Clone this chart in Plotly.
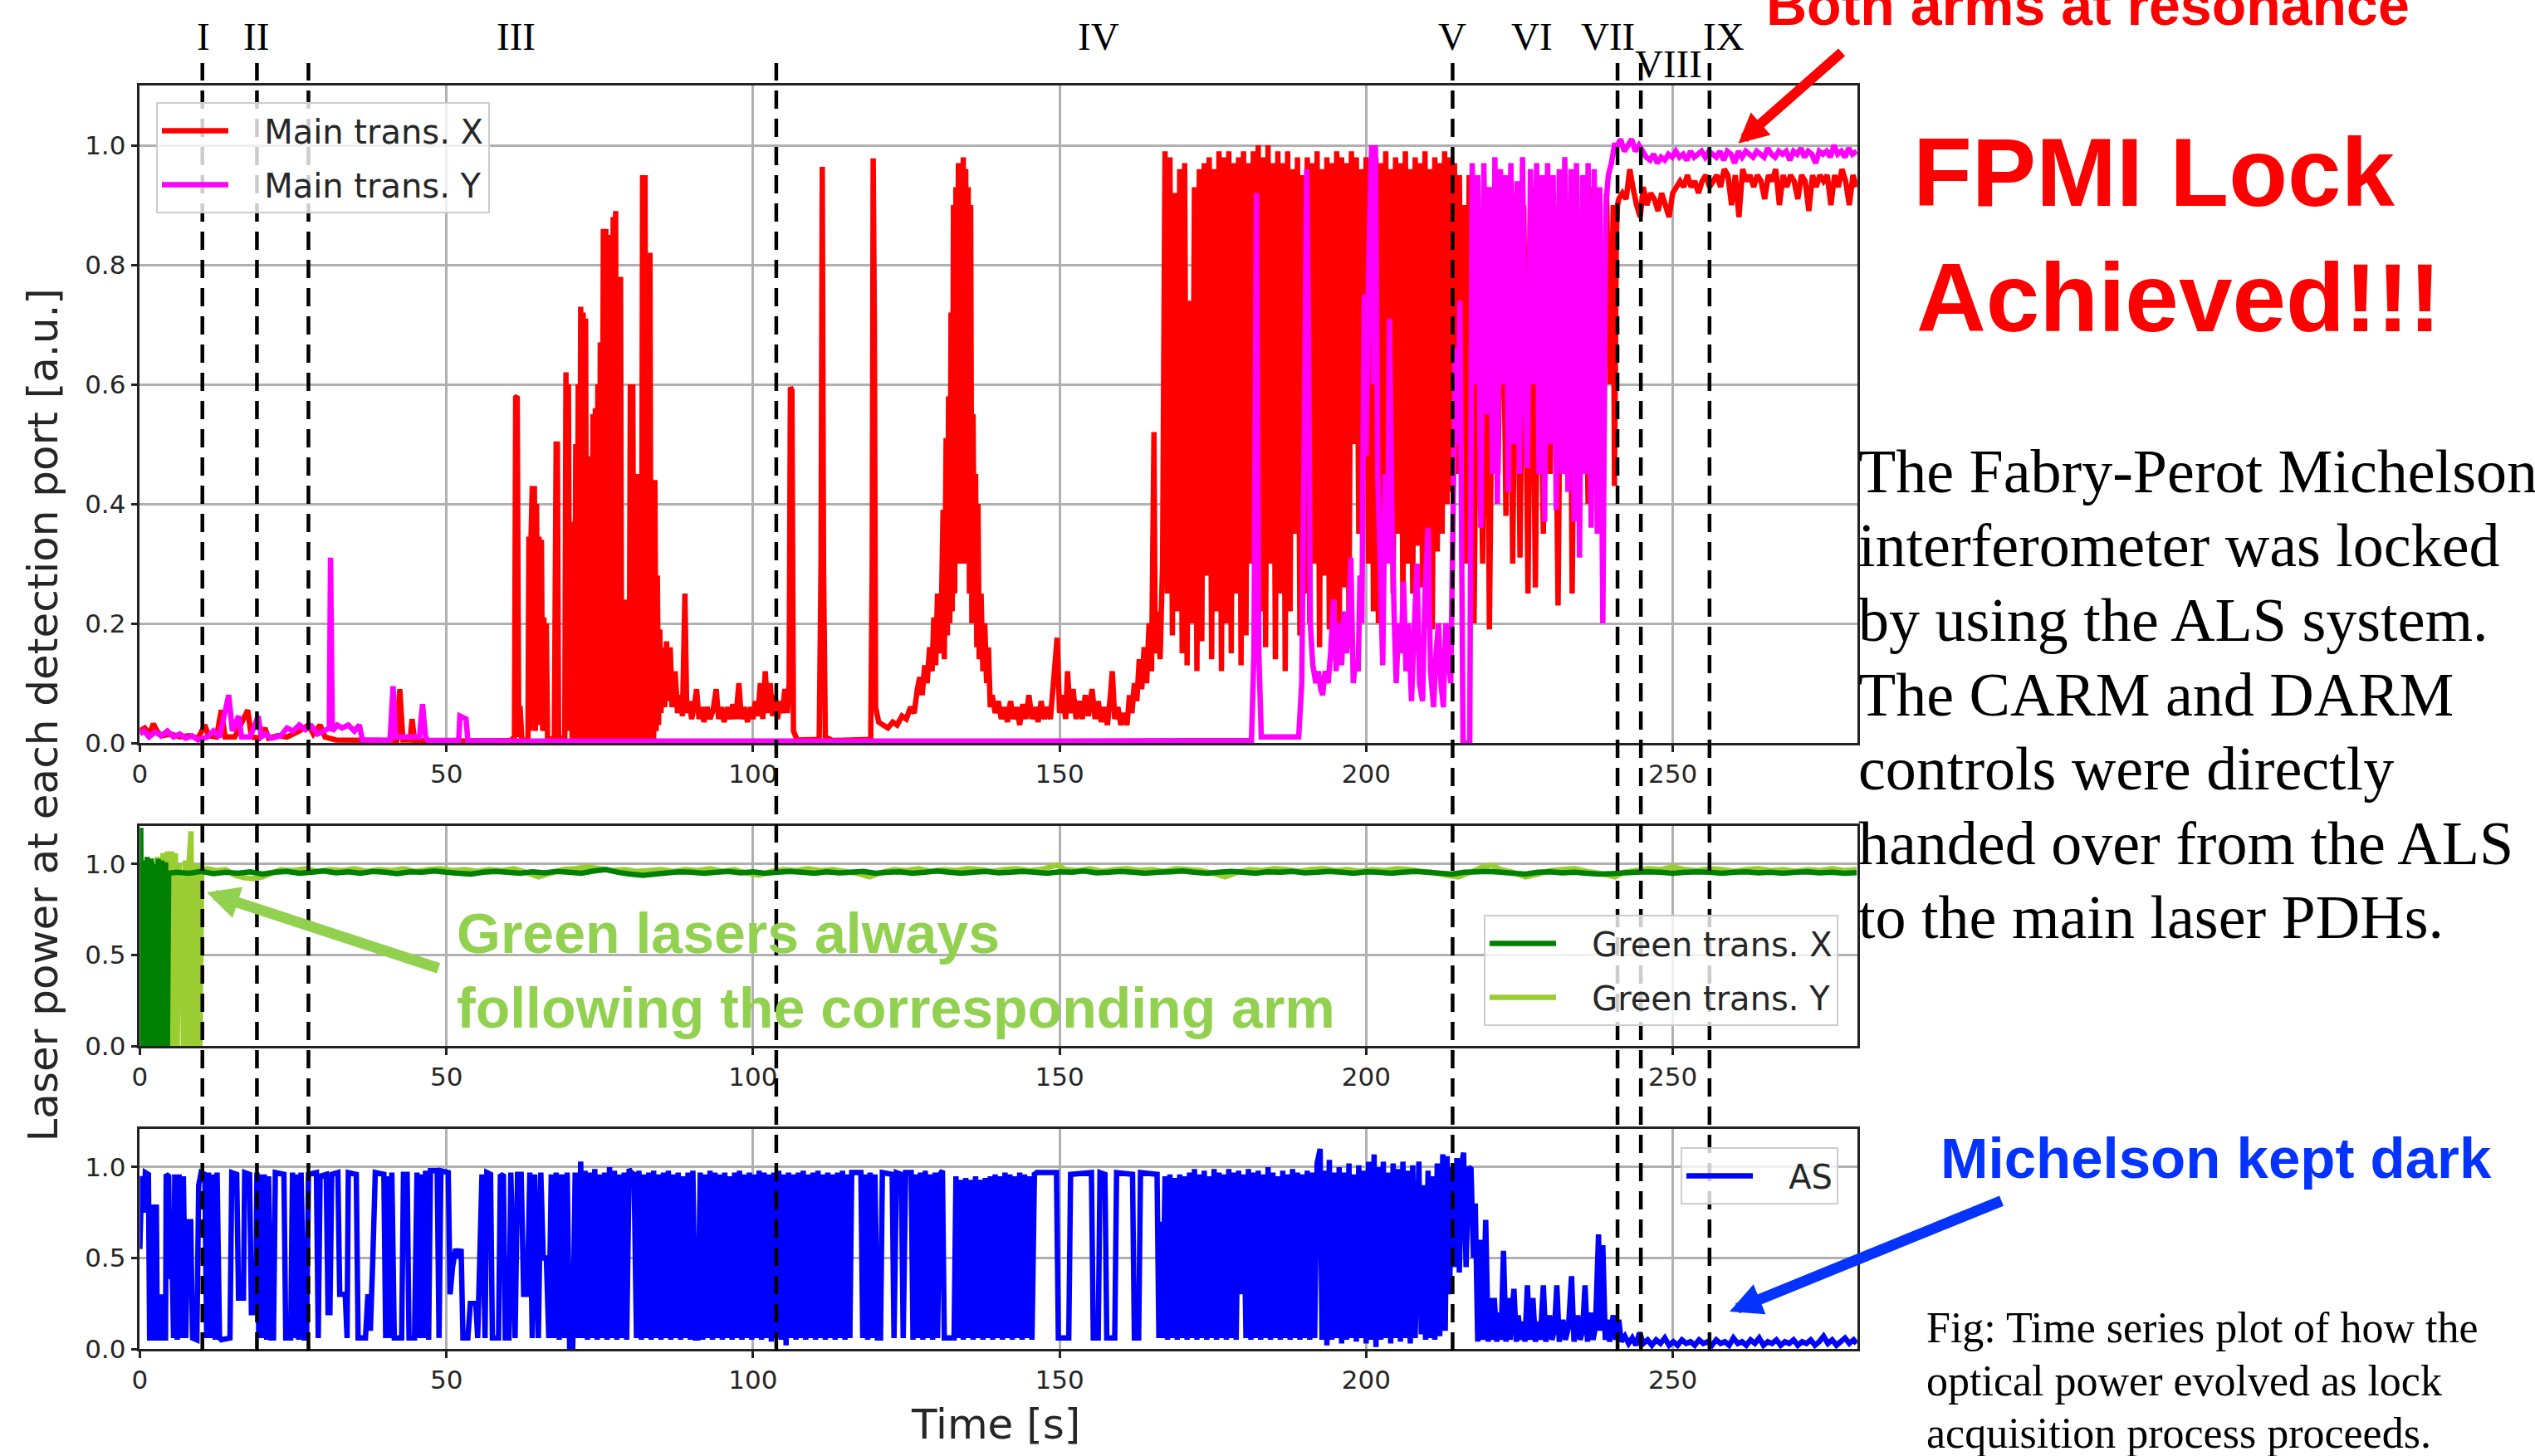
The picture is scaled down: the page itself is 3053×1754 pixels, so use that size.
import plotly.graph_objects as go

W, H = 3053, 1754

# ---------------- data (time [s], power [a.u.]) ----------------
main_x = [
    (0, .02), (0.8, .025), (1.6, .015), (2.2, .032), (2.8, .02), (3.5, .012), (5, .015), (6.5, .01), (8, .012),
    (9.5, .008), (10.6, .03), (11.2, .012), (12.5, .01), (13.3, .055), (13.9, .01), (15.5, .01), (17.6, .055),
    (18.2, .01), (19.5, .008), (20.4, .025), (21, .008), (22.5, .012), (24, .01), (26, .02), (27.5, .03),
    (28.3, .015), (29.4, .03), (30.2, .01), (32, .005), (41.9, .004), (42.4, .09), (42.9, .005), (44.1, .005),
    (44.4, .04), (44.8, .004), (55, .003), (60.5, .004),
    (61.1, .01), (61.3, .578), (61.55, .58), (61.8, .01), (62.0, .062), (62.3, .005), (63.3, .005), (63.45, .345),
    (63.6, .02), (63.8, .34), (64.0, .43), (64.2, .05), (64.35, .43), (64.5, .02), (64.7, .40), (64.9, .03),
    (65.1, .345), (65.3, .03), (65.5, .34), (65.7, .02), (65.9, .21), (66.1, .02), (66.3, .2), (66.5, .005),
    (67.6, .008), (67.9, .5), (68.1, .5), (68.3, .01), (69.3, .005), (69.5, .62), (69.7, .02), (69.9, .6),
    (70.1, .03), (70.3, .37), (70.5, 0), (70.7, .36), (70.9, 0), (71.1, .5), (71.3, 0), (71.5, .6), (71.7, 0),
    (71.9, .73), (72.1, 0), (72.3, .72), (72.5, 0), (72.7, .71), (72.9, 0), (73.1, .48), (73.3, 0), (73.5, .47),
    (73.7, 0), (73.9, .55), (74.1, 0), (74.3, .56), (74.5, 0), (74.7, .6), (74.9, 0), (75.1, .67), (75.3, 0),
    (75.6, .86), (75.8, 0), (76.0, .86), (76.2, 0), (76.4, .52), (76.6, 0), (76.8, .85), (77.0, 0), (77.2, .88),
    (77.4, 0), (77.6, .89), (77.8, 0), (78.0, .78), (78.2, 0), (78.4, .78), (78.6, 0), (78.8, .23), (79.0, 0),
    (79.2, .24), (79.4, 0), (79.6, .23), (79.8, 0), (80.0, .6), (80.2, 0), (80.4, .6), (80.6, 0), (80.8, .45),
    (81.0, 0), (81.2, .45), (81.4, 0), (81.6, .45), (81.8, 0), (82.0, .95), (82.2, 0), (82.4, .95), (82.6, 0),
    (82.8, .82), (83.0, 0), (83.2, .82), (83.4, 0), (83.6, .44), (83.8, 0), (84.0, .44), (84.2, .02), (84.4, .28),
    (84.6, .03), (84.8, .19), (85.0, .05), (85.3, .16), (85.6, .06), (85.9, .17), (86.2, .07), (86.5, .16),
    (86.8, .06), (87.3, .12), (87.7, .05), (88.1, .08), (88.5, .045), (88.9, .25), (89.2, .05), (89.6, .07),
    (90.0, .04), (90.4, .06), (90.8, .09), (91.2, .04), (91.6, .06), (92.0, .035), (92.5, .06), (93.0, .04),
    (93.5, .055), (94.0, .09), (94.4, .04), (94.8, .06), (95.3, .035), (95.8, .06), (96.3, .04), (96.7, .065),
    (97.2, .04), (97.7, .1), (98.1, .04), (98.6, .06), (99.1, .035), (99.6, .06), (100.0, .04), (100.4, .07),
    (100.8, .045), (101.2, .1), (101.6, .04), (102.0, .12), (102.4, .05), (102.8, .1), (103.2, .045), (103.6, .08),
    (104.0, .04), (104.4, .07), (104.8, .05), (105.2, .09), (105.6, .05), (105.9, .1),
    (106.1, .595), (106.35, .59), (106.6, .02), (107.2, .005), (110.8, .006), (111.1, .3), (111.3, .964),
    (111.5, .3), (111.8, .01), (113, .004), (119.2, .006), (119.45, .3), (119.6, .978), (119.8, .7), (120.0, .06),
    (120.5, .035), (121.2, .03), (122.0, .025), (122.8, .035), (123.5, .03), (124.3, .045), (125.0, .04),
    (125.7, .06), (126.3, .05), (126.8, .09), (127.2, .11), (127.6, .08), (128.0, .13), (128.4, .1), (128.8, .16),
    (129.2, .12), (129.5, .21), (129.8, .13), (130.1, .25), (130.4, .15), (130.7, .2), (131.0, .39), (131.2, .14),
    (131.5, .51), (131.7, .18), (131.9, .58), (132.1, .2), (132.3, .72), (132.5, .22), (132.7, .9), (132.9, .25),
    (133.1, .93), (133.3, .3), (133.5, .97), (133.7, .32), (133.9, .95), (134.1, .3), (134.3, .98), (134.5, .35),
    (134.7, .96), (134.9, .3), (135.1, .93), (135.3, .25), (135.5, .9), (135.7, .2), (135.9, .55), (136.1, .22),
    (136.3, .45), (136.5, .16), (136.7, .4), (136.9, .14), (137.2, .25), (137.5, .12), (137.8, .2), (138.1, .1),
    (138.4, .16), (138.7, .06),
    (139.0, .08), (139.5, .05), (140.0, .07), (140.5, .04), (141.0, .06), (141.5, .035), (142.0, .07), (142.5, .04),
    (143.0, .06), (143.5, .03), (144.0, .065), (144.5, .04), (145.0, .08), (145.5, .04), (146.0, .06),
    (146.5, .035), (147.0, .07), (147.5, .04), (148.0, .06), (148.5, .04), (149.0, .1), (149.6, .176), (150.0, .05),
    (150.5, .08), (151.0, .04), (151.3, .12), (151.7, .05), (152.2, .09), (152.7, .04), (153.2, .07), (153.7, .04),
    (154.2, .08), (154.7, .045), (155.3, .09), (155.8, .04), (156.3, .07), (156.8, .035), (157.3, .06),
    (157.8, .03), (158.3, .08), (158.6, .12), (159.0, .04), (159.5, .06), (160.0, .03), (160.5, .05), (161.0, .03),
    (161.4, .08), (161.8, .05), (162.2, .1), (162.6, .07), (163.0, .14), (163.4, .09), (163.8, .16), (164.2, .1),
    (164.6, .2), (165.0, .12), (165.4, .52), (165.6, .15), (166.0, .22), (166.4, .14), (166.8, .3),
    (167.2, .99), (167.6, .25), (168.0, .98), (168.4, .18), (168.8, .92), (169.2, .22), (169.6, .96), (170.0, .15),
    (170.4, .97), (170.8, .13), (171.2, .74), (171.6, .2), (172.0, .93), (172.4, .12), (172.8, .96), (173.2, .17),
    (173.6, .97), (174.0, .28), (174.4, .98), (174.8, .14), (175.2, .96), (175.6, .22), (176.0, .99), (176.4, .12),
    (176.8, .98), (177.2, .2), (177.6, .99), (178.0, .15), (178.4, .97), (178.8, .25), (179.2, .98), (179.6, .13),
    (180.0, .99), (180.4, .18), (180.8, .97), (181.2, .3), (181.6, .99), (182.0, .45), (182.4, 1.0), (182.8, .22),
    (183.2, .98), (183.6, .16), (184.0, 1.0), (184.4, .3), (184.8, .97), (185.2, .14), (185.6, .99), (186.0, .25),
    (186.4, .97), (186.8, .12), (187.2, .99), (187.6, .22), (188.0, .96), (188.4, .35), (188.8, .98), (189.2, .18),
    (189.6, .95), (190.0, .25), (190.4, .98), (190.8, .2), (191.2, .97), (191.6, .3), (192.0, .99), (192.4, .16),
    (192.8, .96), (193.2, .28), (193.6, .98), (194.0, .19), (194.4, .97), (194.8, .24), (195.2, .99), (195.6, .15),
    (196.0, .98), (196.4, .26), (196.8, .97), (197.2, .2), (197.6, .99), (198.0, .5), (198.4, .98), (198.8, .35),
    (199.2, .96), (199.6, .55), (200.0, .98), (200.4, .3), (200.8, .97), (201.2, .22), (201.6, .98), (202.0, .2),
    (202.4, .97), (202.8, .28), (203.2, .99), (203.6, .3), (204.0, .96), (204.4, .25), (204.8, .98), (205.2, .35),
    (205.6, .97), (206.0, .22), (206.4, .99), (206.8, .3), (207.2, .96), (207.6, .25), (208.0, .98), (208.4, .33),
    (208.8, .97), (209.2, .26), (209.6, .99), (210.0, .3), (210.4, .96), (210.8, .19), (211.2, .98), (211.6, .32),
    (212.0, .97), (212.4, .35), (212.8, .99), (213.2, .4), (213.6, .98), (214.0, .42), (214.4, .97), (214.8, .45),
    (215.2, .95), (215.6, .5), (216.0, .9), (216.4, .3),
    (216.8, .95), (217.6, .2), (218.2, .9), (219.0, .3), (219.6, .92), (220.1, .19), (220.8, .9), (221.5, .45),
    (222.2, .93), (222.8, .38), (223.4, .9), (223.9, .3), (224.5, .92), (225.1, .31), (225.7, .9), (226.4, .25),
    (227.0, .93), (227.6, .26), (228.2, .9), (228.9, .35), (229.5, .92), (230.0, .45), (230.6, .9), (231.3, .23),
    (231.9, .93), (232.6, .5), (233.2, .9), (233.6, .25), (234.2, .92), (234.9, .55), (235.5, .9), (236.2, .4),
    (236.8, .93), (237.4, .6), (238.0, .9), (238.6, .5), (239.2, .92), (239.8, .6), (240.3, .9), (240.5, .43),
    (240.8, .85), (241.0, .9),
    (241.2, .91), (241.8, .92), (242.4, .91), (243.0, .96), (243.5, .93), (244.1, .9), (244.7, .88), (245.2, .93),
    (245.8, .9), (246.4, .92), (247.0, .91), (247.6, .89), (248.2, .92), (248.8, .9), (249.4, .88), (250.0, .92),
    (250.6, .93), (251.2, .94), (251.8, .93), (252.4, .95), (253.0, .93), (253.6, .94), (254.2, .92), (254.8, .94),
    (255.4, .95), (256.0, .93), (256.6, .94), (257.2, .95), (257.8, .93), (258.4, .96), (259.0, .95), (259.6, .9),
    (260.2, .95), (260.8, .88), (261.4, .96), (262.0, .94), (262.6, .95), (263.2, .93), (263.8, .95), (264.4, .94),
    (265.0, .91), (265.6, .95), (266.2, .94), (266.8, .96), (267.4, .9), (268.0, .95), (268.6, .93), (269.2, .95),
    (269.8, .94), (270.4, .91), (271.0, .95), (271.6, .94), (272.2, .89), (272.8, .95), (273.4, .93), (274.0, .95),
    (274.6, .94), (275.2, .95), (275.8, .9), (276.4, .95), (277.0, .93), (277.6, .96), (278.2, .94), (278.8, .9),
    (279.4, .95), (280.0, .93),
]

main_y = [
    (0, .015), (0.7, .02), (1.5, .01), (2.5, .018), (3.5, .012), (4.5, .02), (5.5, .01), (6.5, .015), (7.5, .008),
    (8.5, .012), (9.5, .005), (11, .01), (12, .02), (13, .01), (14.5, .08), (15.1, .02), (16.1, .045), (16.6, .01),
    (18, .01), (19.3, .045), (19.8, .01), (20.5, .015), (21.5, .008), (23, .012), (24, .025), (25, .02), (26, .03),
    (27, .022), (28, .028), (29, .015), (30, .02), (30.9, .025), (31.1, .31), (31.4, .02), (32.2, .03), (33, .025),
    (34, .03), (35, .02), (35.8, .03), (36.3, .005), (40.8, .004), (41.3, .095), (41.7, .01), (45.6, .01),
    (46.1, .065), (46.6, .01), (47, .004), (52, .004), (52.2, .045), (53.2, .04), (53.5, .004), (60, .003),
    (100, .003), (150, .003), (181.3, .004), (181.7, .15), (182.1, .92), (182.5, .15), (182.9, .01),
    (189.0, .01), (189.5, .1), (189.9, .5), (190.3, .96), (190.6, .7), (190.9, .2), (191.3, .13), (191.8, .1),
    (192.2, .12), (192.6, .09), (192.9, .08), (193.3, .12), (193.8, .1), (194.2, .15), (194.7, .24), (195.1, .12),
    (195.6, .2), (196.0, .13), (196.4, .22), (196.8, .15), (197.2, .2), (197.5, .31), (197.9, .1), (198.3, .14),
    (198.7, .12), (199.0, .28), (199.3, .2), (199.7, .75), (200.0, .48), (200.4, .8), (200.9, 1.0), (201.2, .6),
    (201.5, 1.0), (201.9, .45), (202.3, .3), (202.7, .13), (203.1, .45), (203.5, .3), (203.8, .71), (204.2, .38),
    (204.6, .2), (204.9, .1), (205.3, .2), (205.7, .15), (206.1, .27), (206.5, .12), (206.9, .2), (207.4, .07),
    (207.8, .18), (208.3, .3), (208.7, .1), (209.2, .07), (209.6, .25), (210.1, .36), (210.5, .12), (211.0, .06),
    (211.4, .15), (211.8, .2), (212.2, .1), (212.6, .06), (213.0, .2), (213.4, .15), (213.8, .1), (214.2, .4),
    (214.6, .66), (215.0, .5), (215.3, .74), (215.6, .3), (215.8, .0), (216.4, .0), (216.9, .0), (217.1, .5),
    (217.3, .97), (217.8, .6), (218.2, .95), (218.7, .36), (219.2, .97), (219.7, .55), (220.1, .93), (220.6, .45),
    (221.0, .98), (221.4, .4), (221.9, .96), (222.4, .6), (222.8, .95), (223.2, .42), (223.6, .97), (224.1, .5),
    (224.6, .94), (225.0, .45), (225.5, .98), (226.0, .55), (226.3, .46), (226.8, .96), (227.3, .6), (227.8, .97),
    (228.2, .45), (228.7, .95), (229.1, .37), (229.6, .97), (230.1, .5), (230.5, .95), (231.0, .39), (231.5, .96),
    (232.0, .45), (232.4, .98), (232.9, .42), (233.4, .96), (233.9, .37), (234.3, .97), (234.8, .31), (235.3, .95),
    (235.8, .45), (236.2, .97), (236.7, .36), (237.2, .96), (237.7, .35), (238.1, .93), (238.6, .2), (239.1, .9),
    (239.5, .95), (240.0, .97), (240.5, 1.0),
    (241.0, 1.0), (241.5, 1.01), (242.1, .99), (242.7, 1.0), (243.3, 1.01), (243.9, .99), (244.5, 1.0), (245.1, .99),
    (245.7, .98), (246.3, .975), (246.9, .985), (247.5, .97), (248.1, .98), (248.7, .975), (249.3, .985),
    (249.9, .98), (250.5, .99), (251.1, .98), (251.7, .985), (252.3, .975), (252.9, .99), (253.5, .98),
    (254.1, .985), (254.7, .99), (255.3, .98), (255.9, .99), (256.5, .985), (257.1, .98), (257.7, .99),
    (258.3, .975), (258.9, .99), (259.5, .985), (260.1, .97), (260.7, .99), (261.3, .98), (261.9, .99),
    (262.5, .985), (263.1, .98), (263.7, .99), (264.3, .985), (264.9, .98), (265.5, .995), (266.1, .985),
    (266.7, .98), (267.3, .99), (267.9, .985), (268.5, .99), (269.1, .975), (269.7, .99), (270.3, .985),
    (270.9, .995), (271.5, .98), (272.1, .99), (272.7, .985), (273.3, .97), (273.9, .99), (274.5, .985),
    (275.1, .99), (275.7, .98), (276.3, 1.0), (276.9, .985), (277.5, .99), (278.1, .98), (278.7, .995),
    (279.3, .985), (280.0, .99),
]

green_x = [
    (0, 0), (0.15, 1.2), (0.3, 0), (0.6, 1.02), (0.9, 0), (1.2, 1.04), (1.5, 0), (1.8, 1.03), (2.0, .99), (2.1, 0),
    (2.4, 1.0), (2.7, 0), (3.0, 1.03), (3.3, 0), (3.6, 1.02), (3.9, 0), (4.2, 1.01), (4.5, 0), (4.7, .95),
    (6, .955), (8, .95), (10, .96), (12, .948), (14, .955), (16, .95), (18, .958), (20, .945), (22, .955), (24, .96),
    (26, .95), (28, .955), (30, .962), (32, .952), (34, .958), (36, .95), (38, .96), (40, .955), (42, .948),
    (44, .958), (46, .955), (48, .962), (50, .955), (52, .95), (54, .945), (56, .955), (58, .96), (60, .955),
    (62, .95), (64, .958), (66, .952), (68, .96), (70, .955), (72, .95), (74, .962), (76, .97), (78, .955),
    (80, .945), (82, .938), (84, .945), (86, .952), (88, .958), (90, .955), (92, .95), (94, .955), (96, .96),
    (98, .952), (100, .958), (102, .95), (104, .955), (106, .96), (108, .955), (110, .95), (112, .958), (114, .952),
    (116, .955), (118, .96), (120, .95), (122, .955), (124, .958), (126, .95), (128, .955), (130, .962), (132, .955),
    (134, .95), (136, .955), (138, .96), (140, .952), (142, .955), (144, .96), (146, .955), (148, .95), (150, .958),
    (152, .955), (154, .962), (156, .952), (158, .955), (160, .96), (162, .955), (164, .95), (166, .955),
    (168, .958), (170, .962), (172, .955), (174, .95), (176, .955), (178, .96), (180, .955), (182, .95), (184, .958),
    (186, .955), (188, .96), (190, .952), (192, .955), (194, .96), (196, .955), (198, .95), (200, .958), (202, .955),
    (204, .95), (206, .955), (208, .96), (210, .955), (212, .95), (214, .945), (216, .955), (218, .958), (220, .96),
    (222, .955), (224, .95), (226, .945), (228, .955), (230, .958), (232, .952), (234, .955), (236, .95), (238, .945),
    (240, .948), (242, .952), (244, .955), (246, .958), (248, .955), (250, .95), (252, .955), (254, .958),
    (256, .955), (258, .95), (260, .955), (262, .958), (264, .952), (266, .955), (268, .95), (270, .955),
    (272, .958), (274, .952), (276, .955), (278, .95), (280, .953),
]

green_y = [
    (0, 0), (0.4, 1.0), (0.8, 0), (1.2, 1.0), (1.6, 0), (2.0, .99), (2.4, 0), (2.8, 1.04), (3.2, 0), (3.4, .95),
    (3.8, 1.06), (4.2, 0), (4.5, 1.07), (4.85, 0), (5.2, 1.07), (5.5, 0), (5.8, 1.06), (6.1, 0), (6.4, 1.0),
    (6.6, .78), (6.9, .77), (7.1, 0), (7.4, 1.02), (7.7, 0), (8.0, 1.0), (8.35, 1.18), (8.6, 0), (8.9, 1.0),
    (9.2, 0), (9.5, 1.0), (9.8, 0), (10.1, .97), (11, .975), (12.5, .965), (14, .97), (15.5, .94), (17, .925),
    (18.5, .92), (20, .93), (21.5, .95), (23, .97), (25, .965), (27, .975), (29, .96), (31, .97), (33, .965),
    (35, .975), (37, .96), (39, .97), (41, .965), (43, .975), (45, .96), (47, .97), (49, .975), (51, .965),
    (53, .97), (55, .96), (57, .97), (59, .965), (61, .975), (63, .955), (65, .93), (67, .95), (69, .97),
    (71, .975), (73, .985), (75, .975), (77, .965), (79, .97), (81, .96), (83, .965), (85, .97), (87, .96),
    (89, .97), (91, .965), (93, .975), (95, .96), (97, .97), (99, .95), (101, .94), (103, .96), (105, .97),
    (107, .965), (109, .975), (111, .965), (113, .97), (115, .96), (117, .95), (119, .93), (121, .955), (123, .97),
    (125, .965), (127, .975), (129, .96), (131, .97), (133, .965), (135, .975), (137, .97), (139, .96), (141, .97),
    (143, .975), (145, .965), (147, .97), (149.6, .995), (151, .97), (153, .965), (155, .975), (157, .96),
    (159, .97), (161, .975), (163, .965), (165, .97), (167, .96), (169, .975), (171, .97), (173, .965), (175, .95),
    (177, .93), (179, .955), (181, .97), (183, .965), (185, .975), (187, .97), (189, .96), (191, .97), (193, .975),
    (195, .965), (197, .97), (199, .96), (201, .97), (203, .965), (205, .975), (207, .97), (209, .96), (211, .955),
    (213, .94), (215, .93), (217, .955), (219, .985), (220.5, .995), (222, .97), (224, .955), (226, .93),
    (228, .945), (230, .965), (232, .97), (234, .975), (236, .96), (238, .95), (240.6, .93), (242, .955),
    (244, .965), (246, .975), (248, .97), (250, .985), (252, .97), (254, .965), (256, .975), (258, .97), (260, .96),
    (262, .97), (264, .975), (266, .965), (268, .97), (270, .96), (272, .97), (274, .965), (276, .975), (278, .965),
    (280, .97),
]

as_port = [
    (0.0, .55), (0.3, .95), (0.6, .75), (0.9, .97), (1.4, .96), (1.6, .06), (2.0, .06), (2.1, .78), (2.7, .78),
    (2.85, .06), (3.4, .06), (3.6, .3), (3.8, .06), (4.2, .06), (4.3, .96), (4.7, .95), (4.9, .4), (5.3, .4),
    (5.5, .06), (5.7, .96), (6.1, .05), (6.4, .96), (6.8, .06), (7.1, .95), (7.5, .06), (7.8, .7), (8.3, .7),
    (8.6, .06), (9.3, .05), (9.6, .9), (10.0, .97), (10.6, .96), (10.9, .06), (11.2, .97), (11.6, .06), (11.9, .96),
    (12.3, .05), (12.6, .97), (13.0, .06), (13.3, .05), (14.7, .06), (15.0, .97), (15.8, .96), (16.1, .28),
    (16.9, .28), (17.1, .97), (17.9, .96), (18.2, .2), (18.9, .2), (19.1, .97), (19.4, .06), (19.7, .96),
    (20.0, .06), (20.3, .96), (20.7, .05), (21.0, .95), (21.4, .06), (21.8, .06), (22.1, .97), (23.5, .96),
    (23.8, .06), (24.6, .06), (24.9, .97), (25.2, .06), (25.5, .96), (25.9, .05), (26.3, .97), (26.8, .06),
    (27.2, .06), (27.5, .96), (28.8, .97), (29.1, .06), (29.4, .95), (30.4, .96), (30.7, .2), (31.0, .2),
    (31.3, .96), (32.3, .97), (32.6, .3), (33.5, .3), (33.8, .06), (34.0, .97), (35.3, .96), (35.6, .06),
    (36.8, .06), (37.2, .3), (37.6, .1), (38.0, .5), (38.4, .97), (39.8, .96), (40.1, .06), (40.4, .95),
    (40.8, .06), (41.1, .97), (41.5, .06), (42.7, .06), (43.0, .96), (43.6, .96), (43.9, .06), (44.8, .06),
    (45.2, .97), (45.6, .06), (45.9, .96), (46.3, .06), (46.6, .98), (47.1, .05), (47.4, .98), (48.5, .98),
    (48.8, .06), (49.1, .98), (50.3, .97), (50.6, .3), (51.0, .45), (51.5, .55), (52.0, .5), (52.4, .55),
    (52.7, .06), (53.5, .06), (53.9, .25), (54.8, .25), (55.1, .06), (55.8, .96), (56.3, .06), (56.6, .97),
    (57.2, .96), (57.5, .06), (58.5, .06), (58.8, .95), (59.3, .96), (59.6, .06), (60.2, .06), (60.5, .97),
    (61.2, .06), (61.6, .96), (62.2, .96), (62.6, .3), (63.2, .3), (63.6, .97), (64.0, .06), (64.4, .96),
    (65.0, .06), (65.4, .97), (65.8, .5), (66.3, .5), (66.7, .06), (67.1, .96), (67.5, .06), (67.9, .97),
    (68.4, .05), (68.8, .96), (69.3, .06), (69.7, .97), (70.1, .0), (70.6, .0), (71.0, .97), (71.5, .06),
    (71.9, 1.03), (72.3, .06), (72.6, .98), (73.0, .05), (73.4, .97), (73.8, .06), (74.2, .99), (74.6, .05),
    (75.0, .96), (75.4, .06), (75.8, .97), (76.2, .05), (76.6, 1.0), (77.0, .06), (77.4, .98), (77.8, .05),
    (78.2, .96), (78.6, .06), (79.0, .97), (79.4, .05), (79.8, .99), (80.2, .96), (80.6, .97), (81.0, .06),
    (81.4, .98), (81.8, .05), (82.2, .96), (82.6, .06), (83.0, .97), (83.4, .05), (83.8, .98), (84.2, .06),
    (84.6, .96), (85.0, .05), (85.4, .97), (85.8, .06), (86.2, .98), (86.6, .05), (87.0, .96), (87.4, .06),
    (87.8, .97), (88.2, .05), (88.6, .95), (89.0, .06), (89.4, .97), (89.8, .05), (90.2, .98), (90.6, .06),
    (91.0, .06), (91.4, .97), (91.8, .05), (92.2, .96), (92.6, .06), (93.0, .98), (93.4, .05), (93.8, .97),
    (94.2, .06), (94.6, .96), (95.0, .05), (95.4, .97), (95.8, .06), (96.2, .95), (96.6, .05), (97.0, .97),
    (97.4, .06), (97.8, .98), (98.2, .05), (98.6, .96), (99.0, .06), (99.4, .97), (99.8, .05), (100.2, .96),
    (100.6, .06), (101.0, .98), (101.4, .05), (101.8, .97), (102.2, .06), (102.6, .96), (103.0, .04), (103.4, .97),
    (103.8, .06), (104.2, .98), (104.6, .05), (105.0, .96), (105.4, .02), (105.8, .97), (106.2, .06), (106.6, .96),
    (107.0, .05), (107.4, .97), (107.8, .06), (108.2, .98), (108.6, .05), (109.0, .96), (109.4, .06), (109.8, .97),
    (110.2, .05), (110.6, .98), (111.0, .06), (111.4, .96), (111.8, .05), (112.2, .97), (112.6, .06), (113.0, .96),
    (113.4, .05), (113.8, .97), (114.2, .06), (114.6, .98), (115.0, .05), (115.4, .96), (115.8, .06), (116.1, .97),
    (117.6, .97), (117.9, .06), (118.3, .96), (118.7, .05), (119.1, .97), (119.5, .06), (119.9, .96), (120.3, .06),
    (120.8, .06), (121.1, .97), (122.7, .96), (123.0, .06), (123.4, .97), (124.2, .96), (124.5, .06), (124.9, .97),
    (125.8, .97), (126.1, .05), (126.5, .96), (126.9, .06), (127.3, .97), (127.7, .05), (128.1, .98), (128.5, .06),
    (128.9, .96), (129.3, .05), (129.7, .97), (130.1, .06), (130.5, .96), (130.9, .98), (131.2, .06), (132.8, .06),
    (133.1, .95), (133.5, .06), (133.9, .93), (134.3, .05), (134.7, .94), (135.1, .06), (135.5, .93), (135.9, .05),
    (136.3, .95), (136.7, .06), (137.1, .93), (137.5, .05), (137.9, .94), (138.3, .06), (138.7, .95), (139.1, .05),
    (139.5, .96), (139.9, .06), (140.3, .95), (140.7, .05), (141.1, .97), (141.5, .06), (141.9, .96), (142.3, .05),
    (142.7, .95), (143.1, .06), (143.5, .97), (143.9, .05), (144.3, .96), (144.7, .06), (145.1, .95), (145.5, .05),
    (145.9, .96), (146.3, .97), (149.5, .97), (149.8, .06), (151.5, .06), (151.8, .96), (155.2, .97), (155.5, .06),
    (156.3, .06), (156.6, .97), (157.4, .96), (157.7, .06), (159.0, .06), (159.3, .97), (161.9, .96), (162.2, .06),
    (162.9, .06), (163.2, .97), (165.9, .96), (166.2, .06), (166.5, .7), (166.8, .06), (167.2, .95), (167.6, .05),
    (168.0, .96), (168.4, .06), (168.8, .94), (169.2, .05), (169.6, .96), (170.0, .06), (170.4, .95), (170.8, .05),
    (171.2, .97), (171.6, .06), (172.0, .99), (172.4, .05), (172.8, .96), (173.2, .06), (173.6, .98), (174.0, .05),
    (174.4, .95), (174.8, .06), (175.2, .99), (175.6, .05), (176.0, .97), (176.4, .06), (176.8, .96), (177.2, .05),
    (177.6, .99), (178.0, .06), (178.4, .97), (178.8, .05), (179.2, .98), (179.6, .3), (180.0, .96), (180.4, .06),
    (180.8, .99), (181.2, .05), (181.6, .97), (182.0, .06), (182.4, .98), (182.8, .05), (183.2, .96), (183.6, .06),
    (184.0, 1.0), (184.4, .05), (184.8, .97), (185.2, .06), (185.6, .95), (186.0, .05), (186.4, .98), (186.8, .06),
    (187.2, .96), (187.6, .05), (188.0, .99), (188.4, .06), (188.8, .97), (189.2, .05), (189.6, .96), (190.0, .06),
    (190.4, .98), (190.8, .05), (191.2, .97), (191.6, .06), (192.0, 1.02), (192.5, 1.1), (192.8, .05), (193.2, .98),
    (193.6, .02), (194.0, 1.04), (194.4, .05), (194.8, .97), (195.2, .06), (195.6, 1.0), (196.0, .03), (196.4, .97),
    (196.8, .05), (197.2, 1.02), (197.6, .06), (198.0, .96), (198.4, .04), (198.8, 1.01), (199.2, .06), (199.6, .98),
    (200.0, .03), (200.4, 1.03), (200.8, .05), (201.3, 1.07), (201.6, .01), (202.0, 1.0), (202.4, .05),
    (202.8, 1.03), (203.2, .06), (203.6, .97), (204.0, .03), (204.4, 1.02), (204.8, .06), (205.2, .99),
    (205.6, .04), (206.0, 1.03), (206.4, .06), (206.8, .98), (207.2, .03), (207.6, 1.01), (208.0, .06),
    (208.6, 1.03), (209.0, .08), (209.3, .9), (209.7, .05), (210.1, .98), (210.5, .06), (210.8, .95), (211.2, .05),
    (211.6, 1.02), (212.0, .07), (212.5, 1.07), (212.9, .1), (213.2, 1.06), (213.6, .3), (214.0, 1.0), (214.4, .45),
    (214.8, 1.05), (215.2, .42), (215.6, 1.02), (215.9, 1.08), (216.3, .45), (216.7, 1.0), (217.1, .99),
    (217.5, .5), (217.8, .8), (218.2, .04), (218.6, .6), (219.0, .05), (219.5, .71), (219.9, .04), (220.2, .28),
    (220.6, .05), (220.9, .28), (221.3, .04), (221.7, .2), (222.0, .05), (222.4, .54), (222.8, .04), (223.1, .28),
    (223.5, .05), (223.8, .2), (224.1, .33), (224.5, .04), (224.8, .185), (225.2, .05), (225.6, .15), (225.9, .04),
    (226.3, .35), (226.7, .05), (227.2, .28), (227.6, .04), (228.0, .15), (228.4, .05), (228.9, .35), (229.3, .04),
    (229.9, .185), (230.3, .05), (230.7, .1), (231.1, .35), (231.5, .04), (232.1, .16), (232.5, .05), (233.0, .12),
    (233.5, .4), (233.9, .04), (234.5, .185), (234.9, .05), (235.3, .1), (235.7, .35), (236.1, .04), (236.6, .2),
    (237.0, .05), (237.4, .12), (237.9, .63), (238.2, .1), (238.6, .57), (239.0, .05), (239.3, .16), (239.7, .04),
    (240.3, .185), (240.7, .05), (241.2, .16), (241.6, .04), (242.2, .07), (242.8, .03), (243.4, .06), (244.0, .02),
    (244.6, .09), (245.2, .03), (245.9, .05), (246.6, .02), (247.3, .05), (248.0, .03), (248.7, .06), (249.4, .02),
    (250.1, .04), (250.8, .02), (251.5, .05), (252.2, .03), (252.9, .04), (253.6, .02), (254.3, .05), (255.0, .03),
    (255.7, .04), (256.4, .02), (257.1, .05), (257.8, .03), (258.5, .04), (259.2, .02), (259.9, .06), (260.6, .03),
    (261.3, .04), (262.0, .02), (262.7, .05), (263.4, .03), (264.1, .06), (264.8, .02), (265.5, .04), (266.2, .03),
    (266.9, .05), (267.6, .02), (268.3, .04), (269.0, .03), (269.7, .05), (270.4, .02), (271.1, .04), (271.8, .03),
    (272.5, .05), (273.2, .02), (273.9, .04), (274.6, .07), (275.3, .03), (276.0, .05), (276.7, .02), (277.4, .04),
    (278.1, .06), (278.8, .03), (279.5, .05), (280.0, .03),
]

stage_lines = [10.2, 19.1, 27.5, 103.8, 214.1, 241.0, 244.8, 256.0]
stage_labels = ["I", "II", "III", "IV", "V", "VI", "VII", "VIII", "IX"]
stage_label_pos = [10.4, 19.0, 61.4, 156.3, 214.0, 227.1, 239.5, 249.3, 258.3]
stage_label_row = [0, 0, 0, 0, 0, 0, 0, 1, 0]

x_ticks = [0, 50, 100, 150, 200, 250]
top_ticks = [0.0, 0.2, 0.4, 0.6, 0.8, 1.0]
low_ticks = [0.0, 0.5, 1.0]

paragraph = ["The Fabry-Perot Michelson", "interferometer was locked", "by using the ALS system.",
             "The CARM and DARM", "controls were directly", "handed over from the ALS",
             "to the main laser PDHs."]
caption = ["Fig: Time series plot of how the", "optical power evolved as lock",
           "acquisition process proceeds."]

# ---------------- helpers ----------------
def px(x):
    return x / W


def py(y):
    return 1 - y / H


def unzip(p):
    return [a for a, _ in p], [b for _, b in p]


SANS = "DejaVu Sans"
SERIF = "Liberation Serif"
BOLD = "Liberation Sans"
TXT = "#262626"
NB = "\u00a0\u00a0\u00a0"

fig = go.Figure()

def add_line(pts, name, color, xa, ya, legend, rank):
    t, v = unzip(pts)
    fig.add_trace(go.Scatter(x=t, y=v, mode="lines", name=NB + name, xaxis=xa, yaxis=ya,
                             line=dict(color=color, width=6.5, simplify=False),
                             legend=legend, legendrank=rank, legendgroup=name, hoverinfo="skip"))

add_line(main_x, "Main trans. X", "#ff0000", "x", "y", "legend", 1)
add_line(main_y, "Main trans. Y", "#ff00ff", "x", "y", "legend", 2)
add_line(green_y, "Green trans. Y", "#9acd32", "x2", "y2", "legend2", 2)
add_line(green_x, "Green trans. X", "#008000", "x2", "y2", "legend2", 1)
add_line(as_port, "AS", "#0000ff", "x3", "y3", "legend3", 1)

xdom = [px(168.4), px(2236.8)]
doms = {"": [py(895), py(103)], "2": [py(1260), py(995)], "3": [py(1625), py(1360)]}

common_ax = dict(showline=True, mirror=True, linecolor="#222", linewidth=2.5, showgrid=True,
                 gridcolor="#b0b0b0", gridwidth=2.5, zeroline=False, ticks="outside", ticklen=8,
                 tickwidth=2.5, tickcolor="#222", tickfont=dict(family=SANS, size=31, color=TXT),
                 automargin=False)

lay = {}
for k, dom in doms.items():
    lay["xaxis" + k] = dict(common_ax, domain=xdom, range=[0, 280.1], tickvals=x_ticks,
                            anchor="y" + k)
    if k == "":
        lay["yaxis" + k] = dict(common_ax, domain=dom, range=[0, 1.1], tickvals=top_ticks,
                                tickformat=".1f", anchor="x" + k)
    else:
        lay["yaxis" + k] = dict(common_ax, domain=dom, range=[0, 1.21], tickvals=low_ticks,
                                tickformat=".1f", anchor="x" + k)

leg_common = dict(font=dict(family=SANS, size=40, color=TXT), bgcolor="rgba(255,255,255,0.8)",
                  bordercolor="#cccccc", borderwidth=2, itemwidth=80, tracegroupgap=10,
                  yanchor="top", traceorder="grouped")

fig.update_layout(
    width=W, height=H, margin=dict(l=0, r=0, t=0, b=0, pad=0, autoexpand=False), autosize=False,
    paper_bgcolor="white", plot_bgcolor="white", showlegend=True,
    legend=dict(leg_common, x=px(188), xanchor="left", y=py(123)),
    legend2=dict(leg_common, x=px(2214), xanchor="right", y=py(1102)),
    legend3=dict(leg_common, x=px(2214), xanchor="right", y=py(1382)),
    **lay,
)

# dashed stage boundaries spanning all panels
for t in stage_lines:
    fig.add_shape(type="line", xref="x", yref="paper", x0=t, x1=t, y0=py(1627), y1=py(76),
                  line=dict(color="black", width=4.5, dash="22px,12px"), layer="above")

# stage labels
for lab, pos, row in zip(stage_labels, stage_label_pos, stage_label_row):
    fig.add_annotation(text=lab, xref="x", yref="paper", x=pos, y=py(43.6 if row == 0 else 76.8),
                       showarrow=False, xanchor="center", yanchor="middle",
                       font=dict(family=SERIF, size=47, color="black"))


def text(s, xpix, ypix, fam, size, color, anchor="left", weight="normal", angle=0):
    fig.add_annotation(text=s, xref="paper", yref="paper", x=px(xpix), y=py(ypix), showarrow=False,
                       xanchor=anchor, yanchor="middle", textangle=angle,
                       font=dict(family=fam, size=size, color=color, weight=weight))


# axis titles
text("Laser power at each detection port [a.u.]", 51, 861.5, SANS, 50, TXT, anchor="center", angle=-90)
text("Time [s]", 1199, 1715.7, SANS, 50, TXT, anchor="center")

# right-hand text
text("Both arms at resonance", 2125, 6.4, BOLD, 68, "#ff0000", weight="bold")
text("FPMI Lock", 2302, 207.8, BOLD, 116, "#ff0000", weight="bold")
text("Achieved!!!", 2306, 358.8, BOLD, 116, "#ff0000", weight="bold")
for i, line in enumerate(paragraph):
    text(line, 2236, 568 + i * 89.5, SERIF, 74, "black")
for i, line in enumerate(caption):
    text(line, 2318, 1599.5 + i * 63.5, SERIF, 52, "black")
text("Green lasers always", 548, 1124.2, BOLD, 68, "#92d050", weight="bold")
text("following the corresponding arm", 548, 1214.0, BOLD, 68, "#92d050", weight="bold")
text("Michelson kept dark", 2335, 1395.1, BOLD, 69, "#0433ff", weight="bold")


def arrow(head, tail, color, width):
    fig.add_annotation(text="", xref="paper", yref="paper", x=px(head[0]), y=py(head[1]),
                       ax=tail[0] - head[0], ay=tail[1] - head[1], showarrow=True,
                       arrowhead=2, arrowsize=0.6, arrowwidth=width, arrowcolor=color,
                       standoff=0, startstandoff=0)


arrow((2093.5, 172.7), (2219.6, 61.7), "#ff0000", 12)
arrow((249, 1075), (529.6, 1166.9), "#92d050", 13)
arrow((2083, 1580), (2412, 1446), "#0433ff", 13)

fig.write_html(
    "out.html",
    config={"responsive": False},
    post_script="document.documentElement.style.margin='0';document.body.style.margin='0';"
                "document.body.style.overflow='hidden';",
)
